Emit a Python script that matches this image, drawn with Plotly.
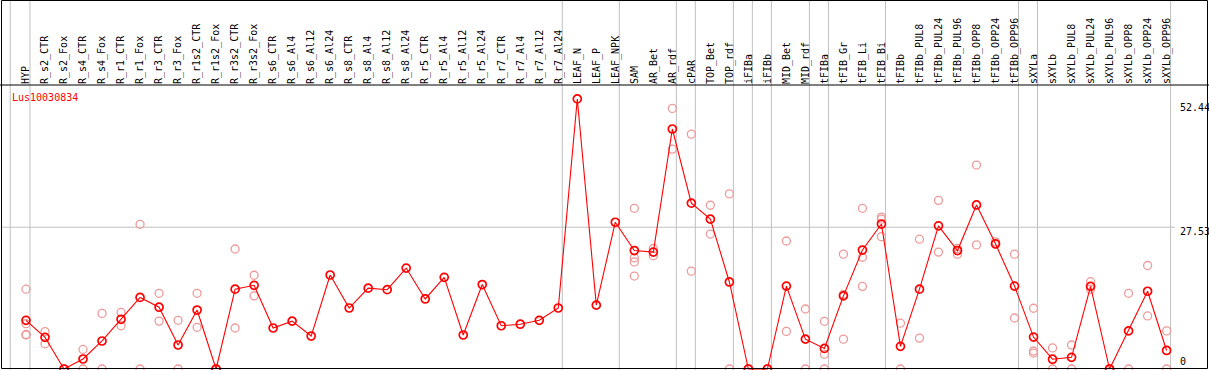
import plotly.graph_objects as go

categories = [
    "HYP", "R_s2_CTR", "R_s2_Fox", "R_s4_CTR", "R_s4_Fox", "R_r1_CTR", "R_r1_Fox",
    "R_r3_CTR", "R_r3_Fox", "R_r1s2_CTR", "R_r1s2_Fox", "R_r3s2_CTR", "R_r3s2_Fox",
    "R_s6_CTR", "R_s6_Al4", "R_s6_Al12", "R_s6_Al24", "R_s8_CTR", "R_s8_Al4",
    "R_s8_Al12", "R_s8_Al24", "R_r5_CTR", "R_r5_Al4", "R_r5_Al12", "R_r5_Al24",
    "R_r7_CTR", "R_r7_Al4", "R_r7_Al12", "R_r7_Al24", "LEAF_N", "LEAF_P", "LEAF_NPK",
    "SAM", "AR_Bet", "AR_rdf", "cPAR", "TOP_Bet", "TOP_rdf", "iFIBa", "iFIBb",
    "MID_Bet", "MID_rdf", "tFIBa", "tFIB_Gr", "tFIB_Li", "tFIB_Bi", "tFIBb",
    "tFIBb_PUL8", "tFIBb_PUL24", "tFIBb_PUL96", "tFIBb_OPP8", "tFIBb_OPP24",
    "tFIBb_OPP96", "sXYLa", "sXYLb", "sXYLb_PUL8", "sXYLb_PUL24", "sXYLb_PUL96",
    "sXYLb_OPP8", "sXYLb_OPP24", "sXYLb_OPP96",
]

group_sizes = [1, 28, 3, 3, 1, 2, 1, 1, 2, 1, 3, 7, 1, 7]

mean_values = [
    9.45, 6.15, 0, 1.94, 5.44, 9.65, 13.9, 12.0, 4.66, 11.45,
    0, 15.5, 16.25, 7.96, 9.3, 6.4, 18.25, 11.84, 15.7, 15.4,
    19.6, 13.6, 17.8, 6.6, 16.4, 8.4, 8.7, 9.45, 11.84, 52.44,
    12.4, 28.5, 23.0, 22.7, 46.6, 32.2, 29.1, 16.9, 0, 0,
    16.1, 5.8, 4.0, 14.2, 23.1, 28.15, 4.4, 15.5, 27.8, 23.0,
    31.85, 24.3, 16.1, 6.2, 1.9, 2.27, 16.05, 0, 7.4, 15.1, 3.6,
]

replicates = [
    [15.5, 8.8, 6.7, 6.6], [7.25, 4.9], [0, 0], [3.8, 0], [10.8, 0],
    [11.0, 8.4], [28.1, 0], [14.7, 9.3], [9.45, 0], [14.7, 8.1],
    [0, 0], [23.3, 7.96], [18.2, 14.2], [], [], [], [], [], [], [],
    [], [], [], [], [], [], [], [], [], [],
    [], [], [31.2, 21.6, 20.8, 18.05], [23.4, 22.0], [50.6, 42.7],
    [45.6, 19.0], [31.8, 26.2], [34.0, 0], [0, 0], [0, 0],
    [24.85, 7.3], [11.65, 0], [9.26, 2.85, 0], [22.3, 14.5, 5.8],
    [31.2, 21.7, 16.05], [29.5, 29.1, 25.7], [8.9, 0], [25.2, 6.0],
    [32.75, 22.7], [23.4, 22.3], [39.6, 24.1], [24.7, 24.2], [22.3, 9.9],
    [11.8, 3.5, 3.1], [4.1, 0], [4.66, 0], [16.95, 15.5], [0, 0],
    [14.7, 0], [20.1, 10.3], [7.4, 0],
]

y_labels = ["0", "27.53", "52.44"]
gene_name = "Lus10030834"

W, H = 1209, 370
TOP = 85
FONT = "DejaVu Sans Mono"
RED = "#ff0000"
PINK = "#ee9a9a"
GRID = "#c0c0c0"

idx = list(range(len(categories)))
rep_x, rep_y = [], []
for i, reps in enumerate(replicates):
    for v in reps:
        rep_x.append(i)
        rep_y.append(v)

fig = go.Figure()
fig.add_trace(go.Scatter(
    x=rep_x, y=rep_y, mode="markers",
    marker=dict(symbol="circle-open", size=8, color=PINK, line=dict(width=1.3, color=PINK)),
    hoverinfo="skip", showlegend=False,
))
fig.add_trace(go.Scatter(
    x=idx, y=mean_values, mode="lines+markers",
    line=dict(color=RED, width=1.1),
    marker=dict(symbol="circle-open", size=8, color=RED, line=dict(width=1.7, color=RED)),
    showlegend=False,
))

step = 19.01
x0_px = 26
xr = [-x0_px / step, (W - x0_px) / step]
ppu = 5.15
zero_px = 369
yr = [(zero_px - H) / ppu, (zero_px - TOP) / ppu]
plot_h = H - TOP

def py(p):
    return (H - p) / plot_h

shapes = []
sep_positions = [-0.83]
acc = 0
for s in group_sizes:
    acc += s
    sep_positions.append(acc - 1 + 0.21)
for sx in sep_positions:
    shapes.append(dict(type="line", xref="x", yref="paper", x0=sx, x1=sx,
                       y0=0, y1=py(0), line=dict(color=GRID, width=1), layer="below"))
mid_val = float(y_labels[1])
shapes.append(dict(type="line", xref="paper", yref="y", x0=1 / W, x1=1175 / W,
                   y0=mid_val, y1=mid_val, line=dict(color=GRID, width=1), layer="below"))
frame = dict(color="black", width=1)
shapes.append(dict(type="line", xref="paper", yref="paper", x0=0, x1=1, y0=1, y1=1, line=frame))
shapes.append(dict(type="rect", xref="paper", yref="paper", x0=1.5 / W, x1=1207.5 / W,
                   y0=py(368.5), y1=py(0.5), line=frame, fillcolor="rgba(0,0,0,0)"))

annotations = [dict(
    text=gene_name, xref="paper", yref="paper", x=9.5 / W, y=py(97.5),
    xanchor="left", yanchor="middle", showarrow=False,
    font=dict(family=FONT, size=10, color=RED),
)]
label_shift = [7.5, -4, -8.5]
for lab, sh in zip(y_labels, label_shift):
    annotations.append(dict(
        text=lab, xref="x", yref="y", x=(1178 - x0_px) / step, y=float(lab), yshift=sh,
        xanchor="left", yanchor="middle", showarrow=False,
        font=dict(family=FONT, size=10, color="black"),
    ))

fig.update_layout(
    width=W, height=H,
    margin=dict(l=0, r=0, t=TOP, b=0, pad=0),
    paper_bgcolor="white", plot_bgcolor="white",
    xaxis=dict(range=xr, side="top", tickmode="array", tickvals=idx, ticktext=categories,
               tickangle=-90, ticks="", showgrid=False, zeroline=False, showline=False,
               tickfont=dict(family=FONT, size=10, color="black")),
    yaxis=dict(range=yr, showticklabels=False, showgrid=False, zeroline=False, showline=False),
    shapes=shapes, annotations=annotations,
)

fig.write_html(
    "out.html",
    config={"displayModeBar": False},
    post_script="document.body.style.margin='0';document.body.style.overflow='hidden';",
)
